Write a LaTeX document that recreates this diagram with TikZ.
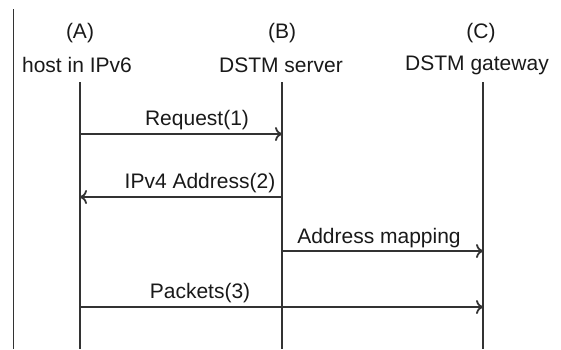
\documentclass[tikz,border=0pt]{standalone}
\usepackage{fontspec}
\setmainfont{Liberation Sans}
\usepackage{tikz}
\usetikzlibrary{arrows.meta}

\begin{document}
\begin{tikzpicture}[x=0.5pt, y=-0.5pt, font=\fontsize{10.5}{12}\selectfont,
        life/.style = {draw=black!80, line width=0.85pt},
        msg/.style = {draw=black!80, line width=0.85pt,
            -{To[length=3.5pt, width=7pt, line width=0.9pt]}},
        lbl/.style = {inner sep=0pt, text=black!90}]
        \useasboundingbox (0, 0) rectangle (561, 349);

        % frame edge on the left
        \coordinate (edgetop) at (13.5, 9);
        \coordinate (edgebot) at (13.5, 349);
        \draw[life] (edgetop) -- (edgebot);

        % heads
        \node[lbl] (ta) at (80, 33) {(A)};
        \node[lbl] (na) at (77, 65) {host in IPv6};
        \node[lbl] (tb) at (282, 33) {(B)};
        \node[lbl] (nb) at (281, 65) {DSTM server};
        \node[lbl] (tc) at (481, 33) {(C)};
        \node[lbl] (nc) at (477, 65) {DSTM gateway};

        % life lines
        \coordinate (a0) at (80, 82);
        \coordinate (b0) at (282, 82);
        \coordinate (c0) at (483, 82);
        \coordinate (a9) at (80, 349);
        \coordinate (b9) at (282, 349);
        \coordinate (c9) at (483, 349);
        \draw[life] (a0) -- (a9);
        \draw[life] (b0) -- (b9);
        \draw[life] (c0) -- (c9);

        % messages
        \coordinate (a1) at (80, 134);
        \coordinate (b1) at (282, 134);
        \coordinate (a2) at (80, 197);
        \coordinate (b2) at (282, 197);
        \coordinate (b3) at (282, 251);
        \coordinate (c3) at (483, 251);
        \coordinate (a4) at (80, 307);
        \coordinate (c4) at (483, 307);

        \draw[msg] (a1) -- (b1);
        \draw[msg] (b2) -- (a2);
        \draw[msg] (b3) -- (c3);
        \draw[msg] (a4) -- (c4);

        \node[lbl] (m1) at (197, 120) {Request(1)};
        \node[lbl] (m2) at (200, 183) {IPv4 Address(2)};
        \node[lbl] (m3) at (379, 238) {Address mapping};
        \node[lbl] (m4) at (200, 293) {Packets(3)};
    \end{tikzpicture}
\end{document}
